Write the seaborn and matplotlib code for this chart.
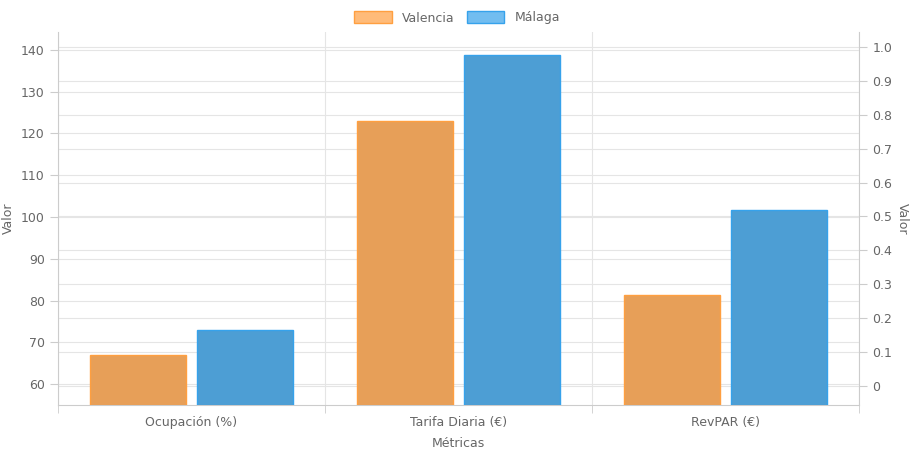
import matplotlib
matplotlib.use("Agg")
import matplotlib.pyplot as plt
import seaborn as sns
import pandas as pd
from matplotlib.patches import Patch

categories = ["Ocupación (%)", "Tarifa Diaria (€)", "RevPAR (€)"]
valencia = [67, 123, 81.3]
malaga = [73, 138.7, 101.7]
series = ["Valencia", "Málaga"]

df = pd.DataFrame({
    "Métricas": categories * 2,
    "Valor": valencia + malaga,
    "Ciudad": [series[0]] * 3 + [series[1]] * 3,
})

plt.rcParams["font.family"] = "DejaVu Sans"
fig = plt.figure(figsize=(9.14, 4.57), dpi=100)
ax = fig.add_axes([58/914, 1-405/457, (859-58)/914, (405-32)/457])
fills = {"Valencia": (1, 159/255, 64/255, 0.7), "Málaga": (54/255, 162/255, 235/255, 0.7)}
edges = {"Valencia": "#FF9F40", "Málaga": "#36A2EB"}
sns.barplot(data=df, x="Métricas", y="Valor", hue="Ciudad", palette=fills,
            width=0.8, gap=0.1, ax=ax, legend=False, zorder=3)
for i, p in enumerate(ax.patches):
    name = series[i // 3] if i < 6 else None
    if name:
        p.set_edgecolor(edges[name]); p.set_linewidth(1)

ax.set_ylim(55, 144.3)
ax.set_xlim(-0.5, 2.5)
ax.set_yticks(range(60, 141, 10))
ax.set_xticks([0, 1, 2])
ax.set_xticks([-0.5, 0.5, 1.5, 2.5], minor=True)
ax.grid(axis="x", which="minor", color="#e5e5e5", lw=0.8, zorder=0)
ax.grid(axis="y", which="major", color="#e5e5e5", lw=0.8, zorder=0)
ax.tick_params(axis="x", which="major", length=0, colors="#666", labelsize=9, pad=8)
ax.tick_params(axis="x", which="minor", length=6, color="#ccc")
ax.tick_params(axis="y", colors="#666", labelsize=9, length=6, color="#ccc")
ax.set_xlabel("Métricas", color="#666", fontsize=9, labelpad=6)
ax.set_ylabel("Valor", color="#666", fontsize=9)
for s in ["top", "right"]:
    ax.spines[s].set_visible(False)
ax.spines["left"].set_color("#ccc")
ax.spines["bottom"].set_color("#ccc")

ax2 = ax.twinx()
ax2.set_ylim(-0.056, 1.044)
ax2.set_yticks([i/10 for i in range(11)])
ax2.set_yticklabels(["0"] + [f"{i/10:.1f}" for i in range(1, 11)])
ax2.grid(axis="y", color="#e5e5e5", lw=0.8)
ax2.set_zorder(-1)
ax.patch.set_visible(False)
ax2.tick_params(axis="y", colors="#666", labelsize=9, length=6, color="#ccc")
ax2.set_ylabel("Valor", color="#666", fontsize=9, rotation=-90, labelpad=12)
for s in ["top", "left", "bottom"]:
    ax2.spines[s].set_visible(False)
ax2.spines["right"].set_color("#ccc")

handles = [Patch(facecolor=fills[s], edgecolor=edges[s], label=s) for s in series]
fig.legend(handles=handles, loc="upper center", bbox_to_anchor=(0.5, 1.0), ncol=2,
           frameon=False, fontsize=9, handlelength=3, handleheight=1.1,
           labelcolor="#666", columnspacing=1)
fig.savefig("out.png", dpi=100)
